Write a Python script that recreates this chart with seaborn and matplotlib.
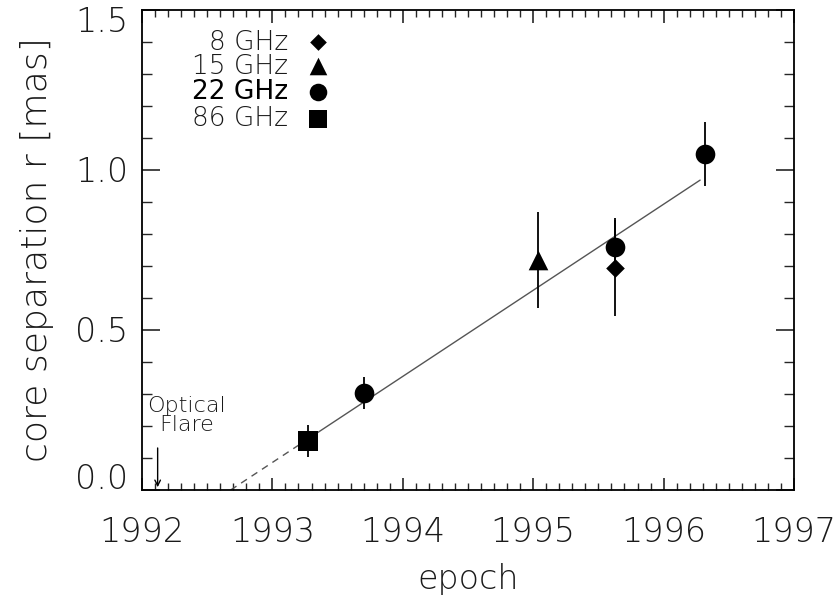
import numpy as np
import pandas as pd
import matplotlib
matplotlib.use("Agg")
import matplotlib.pyplot as plt
import matplotlib.transforms as mtransforms
import seaborn as sns
from matplotlib.ticker import MultipleLocator

# data
bands = ["86 GHz", "22 GHz", "15 GHz", "22 GHz", "8 GHz", "22 GHz"]
epochs = [1993.27, 1993.70, 1995.04, 1995.63, 1995.63, 1996.32]
separation = [0.153, 0.303, 0.72, 0.76, 0.694, 1.05]
sep_err = [0.05, 0.05, 0.15, 0.09, 0.15, 0.10]
fit_solid_x = [1993.27, 1996.28]
fit_dash_x = [1992.68, 1993.27]
fit_slope = 0.269
fit_x0 = 1992.68
legend_labels = ["8 GHz", "15 GHz", "22 GHz", "86 GHz"]
legend_markers = ["D", "^", "o", "s"]
legend_y = [1.40, 1.325, 1.245, 1.16]
flare_epoch = 1992.12
xtick_values = [1992, 1993, 1994, 1995, 1996, 1997]
xtick_labels = ["1992", "1993", "1994", "1995", "1996", "1997"]
ytick_values = [0.0, 0.5, 1.0, 1.5]
ytick_labels = ["0.0", "0.5", "1.0", "1.5"]

df = pd.DataFrame({"band": bands, "epoch": epochs, "r": separation, "err": sep_err})
marker_map = {"8 GHz": "D", "15 GHz": "^", "22 GHz": "o", "86 GHz": "s"}
size_map = {"8 GHz": 90, "15 GHz": 200, "22 GHz": 200, "86 GHz": 220}

sns.set_style("ticks")
plt.rcParams["font.family"] = ["DejaVu Sans"]
plt.rcParams["font.weight"] = "light"
TXT = "#1a1a1a"

fig = plt.figure(figsize=(8.39, 5.95), dpi=100)
ax = fig.add_axes([142/839, 1-490/595, (794-142)/839, (490-10)/595])

# fit line
fx = np.array(fit_solid_x)
ax.plot(fx, fit_slope*(fx-fit_x0), color="#555555", lw=1.0)
dx = np.array(fit_dash_x)
ax.plot(dx, fit_slope*(dx-fit_x0), color="#555555", lw=1.0, ls=(0, (5, 4)))

# error bars
ax.errorbar(df["epoch"], df["r"], yerr=df["err"], fmt="none", ecolor="black", elinewidth=1.3, capsize=0)

for b in df["band"].unique():
    sub = df[df["band"] == b]
    sns.scatterplot(data=sub, x="epoch", y="r", marker=marker_map[b], s=size_map[b],
                    color="black", edgecolor="black", linewidth=0, ax=ax, legend=False, zorder=5)

# custom legend
for lab, mk, yy in zip(legend_labels, legend_markers, legend_y):
    ax.text(1993.12, yy, lab, ha="right", va="center", fontsize=19,
            color="#000000" if lab == "22 GHz" else TXT,
            fontweight="normal" if lab == "22 GHz" else "light")
    ax.scatter([1993.35], [yy], marker=mk, s=size_map[lab] * 0.8, color="black", linewidth=0)

# optical flare
ax.annotate("", xy=(flare_epoch, 0.0), xytext=(flare_epoch, 0.14),
            arrowprops=dict(arrowstyle="->", color="black", lw=1.0))
ax.text(1992.34, 0.232, "Optical\nFlare", ha="center", va="center", fontsize=16,
        color=TXT, linespacing=0.95, fontweight="light")

ax.set_xlim(1992, 1997)
ax.set_ylim(0, 1.5)
ax.xaxis.set_minor_locator(MultipleLocator(0.1))
ax.yaxis.set_minor_locator(MultipleLocator(0.1))
ax.set_xticks(xtick_values)
ax.set_xticklabels(xtick_labels, fontweight="light")
ax.set_yticks(ytick_values)
ax.set_yticklabels([])
ax.tick_params(axis="x", which="major", direction="in", length=9, width=1.2, top=True,
               labelsize=24, labelcolor=TXT, pad=19)
ax.tick_params(axis="y", which="major", direction="in", length=13, width=1.2, right=True)
ax.tick_params(axis="x", which="minor", direction="in", length=5, width=1.0, top=True)
ax.tick_params(axis="y", which="minor", direction="in", length=7, width=1.0, right=True)

# y tick labels (IDL-style shifted at the ends)
trans = mtransforms.blended_transform_factory(ax.transAxes, ax.transData)
ylab_offsets = [0.032, -0.008, -0.008, -0.038]
for v, lab, off in zip(ytick_values, ytick_labels, ylab_offsets):
    ax.text(-14/652, v + off, lab, transform=trans, ha="right", va="center",
            fontsize=24, color=TXT, fontweight="light")

for s in ax.spines.values():
    s.set_linewidth(1.3)
    s.set_color("black")
ax.set_xlabel("epoch", fontsize=24, color=TXT, labelpad=10, fontweight="light")
ax.set_ylabel("core separation r [mas]", fontsize=26, color=TXT, fontweight="light")
ax.yaxis.set_label_coords(-88/652, 0.5)

fig.savefig("out.png", dpi=100)
